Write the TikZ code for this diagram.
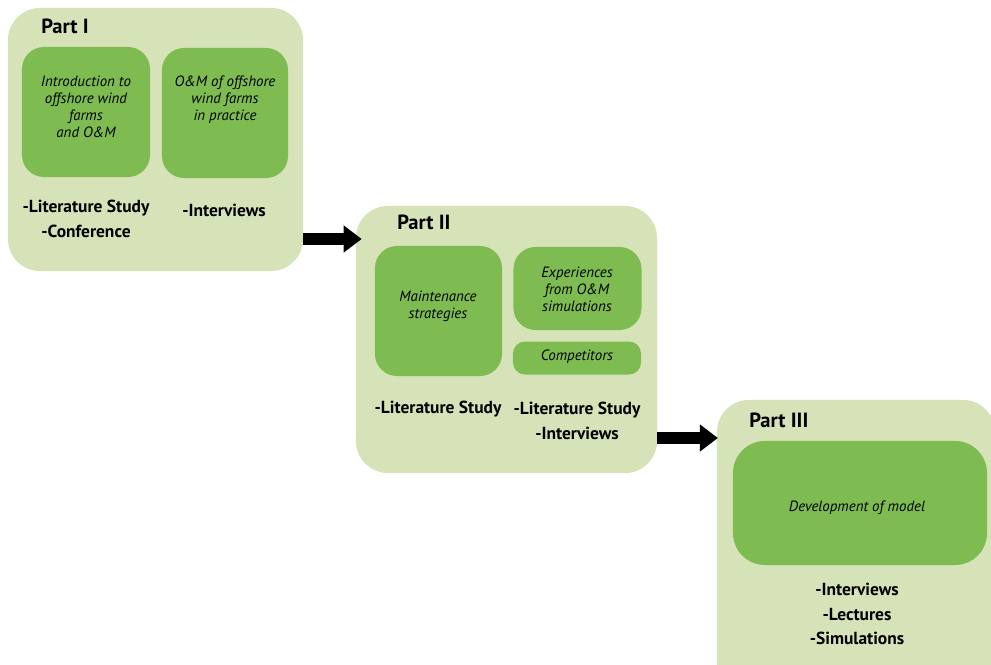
\documentclass[tikz,border=0pt]{standalone}
\usepackage{fontspec}
\setmainfont{PT Sans}
\usetikzlibrary{arrows.meta}
\definecolor{partgreen}{RGB}{214,226,184}
\definecolor{topicgreen}{RGB}{126,188,82}

\begin{document}
\begin{tikzpicture}[x=0.025cm,y=-0.025cm,
		part/.style={fill=partgreen, rounded corners=0.8cm, inner sep=0pt},
		topic/.style={fill=topicgreen, rounded corners=0.55cm, inner sep=0pt},
		title/.style={font=\fontsize{14.6}{16}\selectfont\bfseries, anchor=west, inner sep=0pt},
		txt/.style={font=\fontsize{10.6}{12}\selectfont\itshape, align=center},
		method/.style={font=\fontsize{12.4}{17.3}\selectfont\bfseries, align=center},
		bigarrow/.style={line width=0.28cm, -{Triangle[length=0.45cm,width=0.65cm]}}]
		\useasboundingbox (0,0) rectangle (991,664);
		\clip (0,0) rectangle (991,664);

		% Part I
		\node[part, minimum width=7.375cm, minimum height=6.575cm] (P1) at (155.5,139.5) {};
		\node[topic, minimum width=3.2cm, minimum height=3.25cm] (T1) at (86,112) {};
		\node[topic, minimum width=3.15cm, minimum height=3.25cm] (T2) at (225,113) {};
		\node[title] (P1t) at (41,26) {Part I};
		\node[txt] (T1t) at (86,107) {Introduction to\\offshore wind\\farms\\and O\&M};
		\node[txt] (T2t) at (225,100) {O\&M of offshore\\wind farms\\in practice};
		\node[method] (M1) at (86,219) {-Literature Study\\-Conference};
		\node[method] (M2) at (224,210) {-Interviews};

		% Part II
		\node[part, minimum width=7.525cm, minimum height=6.675cm] (P2) at (506.5,339.5) {};
		\node[topic, minimum width=3.175cm, minimum height=3.25cm] (T3) at (438.5,311) {};
		\node[topic, minimum width=3.2cm, minimum height=2.075cm] (T4) at (577.5,288.5) {};
		\node[topic, rounded corners=0.3cm, minimum width=3.2cm, minimum height=0.825cm] (T5) at (577,358) {};
		\node[title] (P2t) at (397,222) {Part II};
		\node[txt] (T3t) at (438,306) {Maintenance\\strategies};
		\node[txt] (T4t) at (577,289) {Experiences\\from O\&M\\simulations};
		\node[txt] (T5t) at (577,357) {Competitors};
		\node[method] (M3) at (438,409) {-Literature Study};
		\node[method] (M4) at (577,421) {-Literature Study\\-Interviews};

		% Part III
		\node[part, minimum width=6.95cm, minimum height=7.5cm] (P3) at (856,550) {};
		\node[topic, rounded corners=0.8cm, minimum width=6.35cm, minimum height=3.1cm] (T6) at (860,503) {};
		\node[title] (P3t) at (749,420) {Part III};
		\node[txt] (T6t) at (857,508) {Development of model};
		\node[method] (M5) at (857,614) {-Interviews\\-Lectures\\-Simulations};

		% arrows
		\coordinate (a1) at (330,239);
		\coordinate (a2) at (690,438);
		\draw[bigarrow] (P1.east |- a1) -- ([xshift=0.15cm]P2.west |- a1);
		\draw[bigarrow] (P2.east |- a2) -- ([xshift=0.03cm]P3.west |- a2);
	\end{tikzpicture}
\end{document}
